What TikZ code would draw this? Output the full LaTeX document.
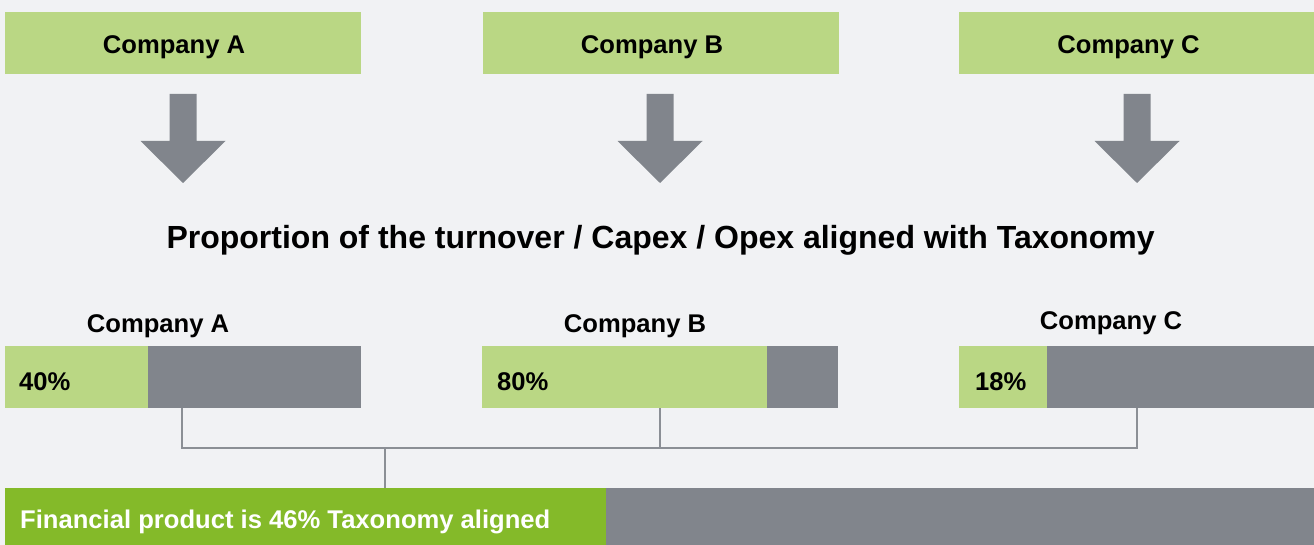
\documentclass[tikz,border=0pt]{standalone}
\usepackage{fontspec}
\setmainfont{Liberation Sans}
\begin{document}
\begin{tikzpicture}[x=1pt,y=-1pt]
\definecolor{bgc}{HTML}{F1F2F4}
\definecolor{lgreen}{HTML}{BAD784}
\definecolor{dgreen}{HTML}{84BA29}
\definecolor{barg}{HTML}{81858C}
\definecolor{lineg}{HTML}{8B8F95}
\tikzset{
  box/.style={fill=lgreen,inner sep=0,outer sep=0,anchor=north west},
  grayb/.style={fill=barg,inner sep=0,outer sep=0,anchor=north west},
  lbl/.style={font=\bfseries\fontsize{25.6}{30}\selectfont,inner sep=0,text=black},
  conn/.style={draw=lineg,line width=2.6pt},
  downarrow/.pic={\fill[barg] (-13.5,0) -- (13.5,0) -- (13.5,47) -- (42.5,47) -- (0,89) -- (-42.5,47) -- (-13.5,47) -- cycle;}
}
\fill[bgc] (0,0) rectangle (1314,545);
\useasboundingbox (0,0) rectangle (1314,545);
% top boxes
\node[box,minimum width=356,minimum height=62] (ta) at (5,12) {};
\node[box,minimum width=356,minimum height=62] (tb) at (483,12) {};
\node[box,minimum width=355,minimum height=62] (tc) at (959,12) {};
\node[lbl,anchor=base] at ([xshift=-9pt]ta.center |- 0,54) {Company A};
\node[lbl,anchor=base] at ([xshift=-9pt]tb.center |- 0,54) {Company B};
\node[lbl,anchor=base] at ([xshift=-8pt]tc.center |- 0,54) {Company C};
% arrows
\pic at (183,94) {downarrow};
\pic at (660,94) {downarrow};
\pic at (1137,94) {downarrow};
% title
\node[font=\bfseries\fontsize{32}{38}\selectfont,inner sep=0,anchor=base] (title) at (660.5,249) {Proportion of the turnover / Capex / Opex aligned with Taxonomy};
% bar labels
\node[lbl,anchor=base] (la) at (158,332) {Company A};
\node[lbl,anchor=base] (lb) at (635,332) {Company B};
\node[lbl,anchor=base] (lc) at (1111,329) {Company C};
% bars
\node[grayb,minimum width=356,minimum height=62] (barA) at (5,346) {};
\node[box,minimum width=143,minimum height=62] (gA) at (5,346) {};
\node[grayb,minimum width=356,minimum height=62] (barB) at (482,346) {};
\node[box,minimum width=285,minimum height=62] (gB) at (482,346) {};
\node[grayb,minimum width=355,minimum height=62] (barC) at (959,346) {};
\node[box,minimum width=88,minimum height=62] (gC) at (959,346) {};
\node[lbl,anchor=base west] at (19,390) {40\%};
\node[lbl,anchor=base west] at (497,390) {80\%};
\node[lbl,anchor=base west] at (975,390) {18\%};
% bottom bar
\node[grayb,minimum width=1309,minimum height=57] (bot) at (5,488) {};
\node[fill=dgreen,inner sep=0,outer sep=0,anchor=north west,minimum width=601,minimum height=57] (botg) at (5,488) {};
\node[lbl,text=white,anchor=base west] at (20,528) {Financial product is 46\% Taxonomy aligned};
% connectors
\coordinate (ja) at (182,448);
\coordinate (jb) at (660,448);
\coordinate (jc) at (1137,448);
\coordinate (jm) at (385,448);
\draw[conn] (ja |- barA.south) -- (ja) -- (jc) -- (jc |- barC.south);
\draw[conn] (jb |- barB.south) -- (jb);
\draw[conn] (jm) -- (jm |- bot.north);
\end{tikzpicture}
\end{document}
